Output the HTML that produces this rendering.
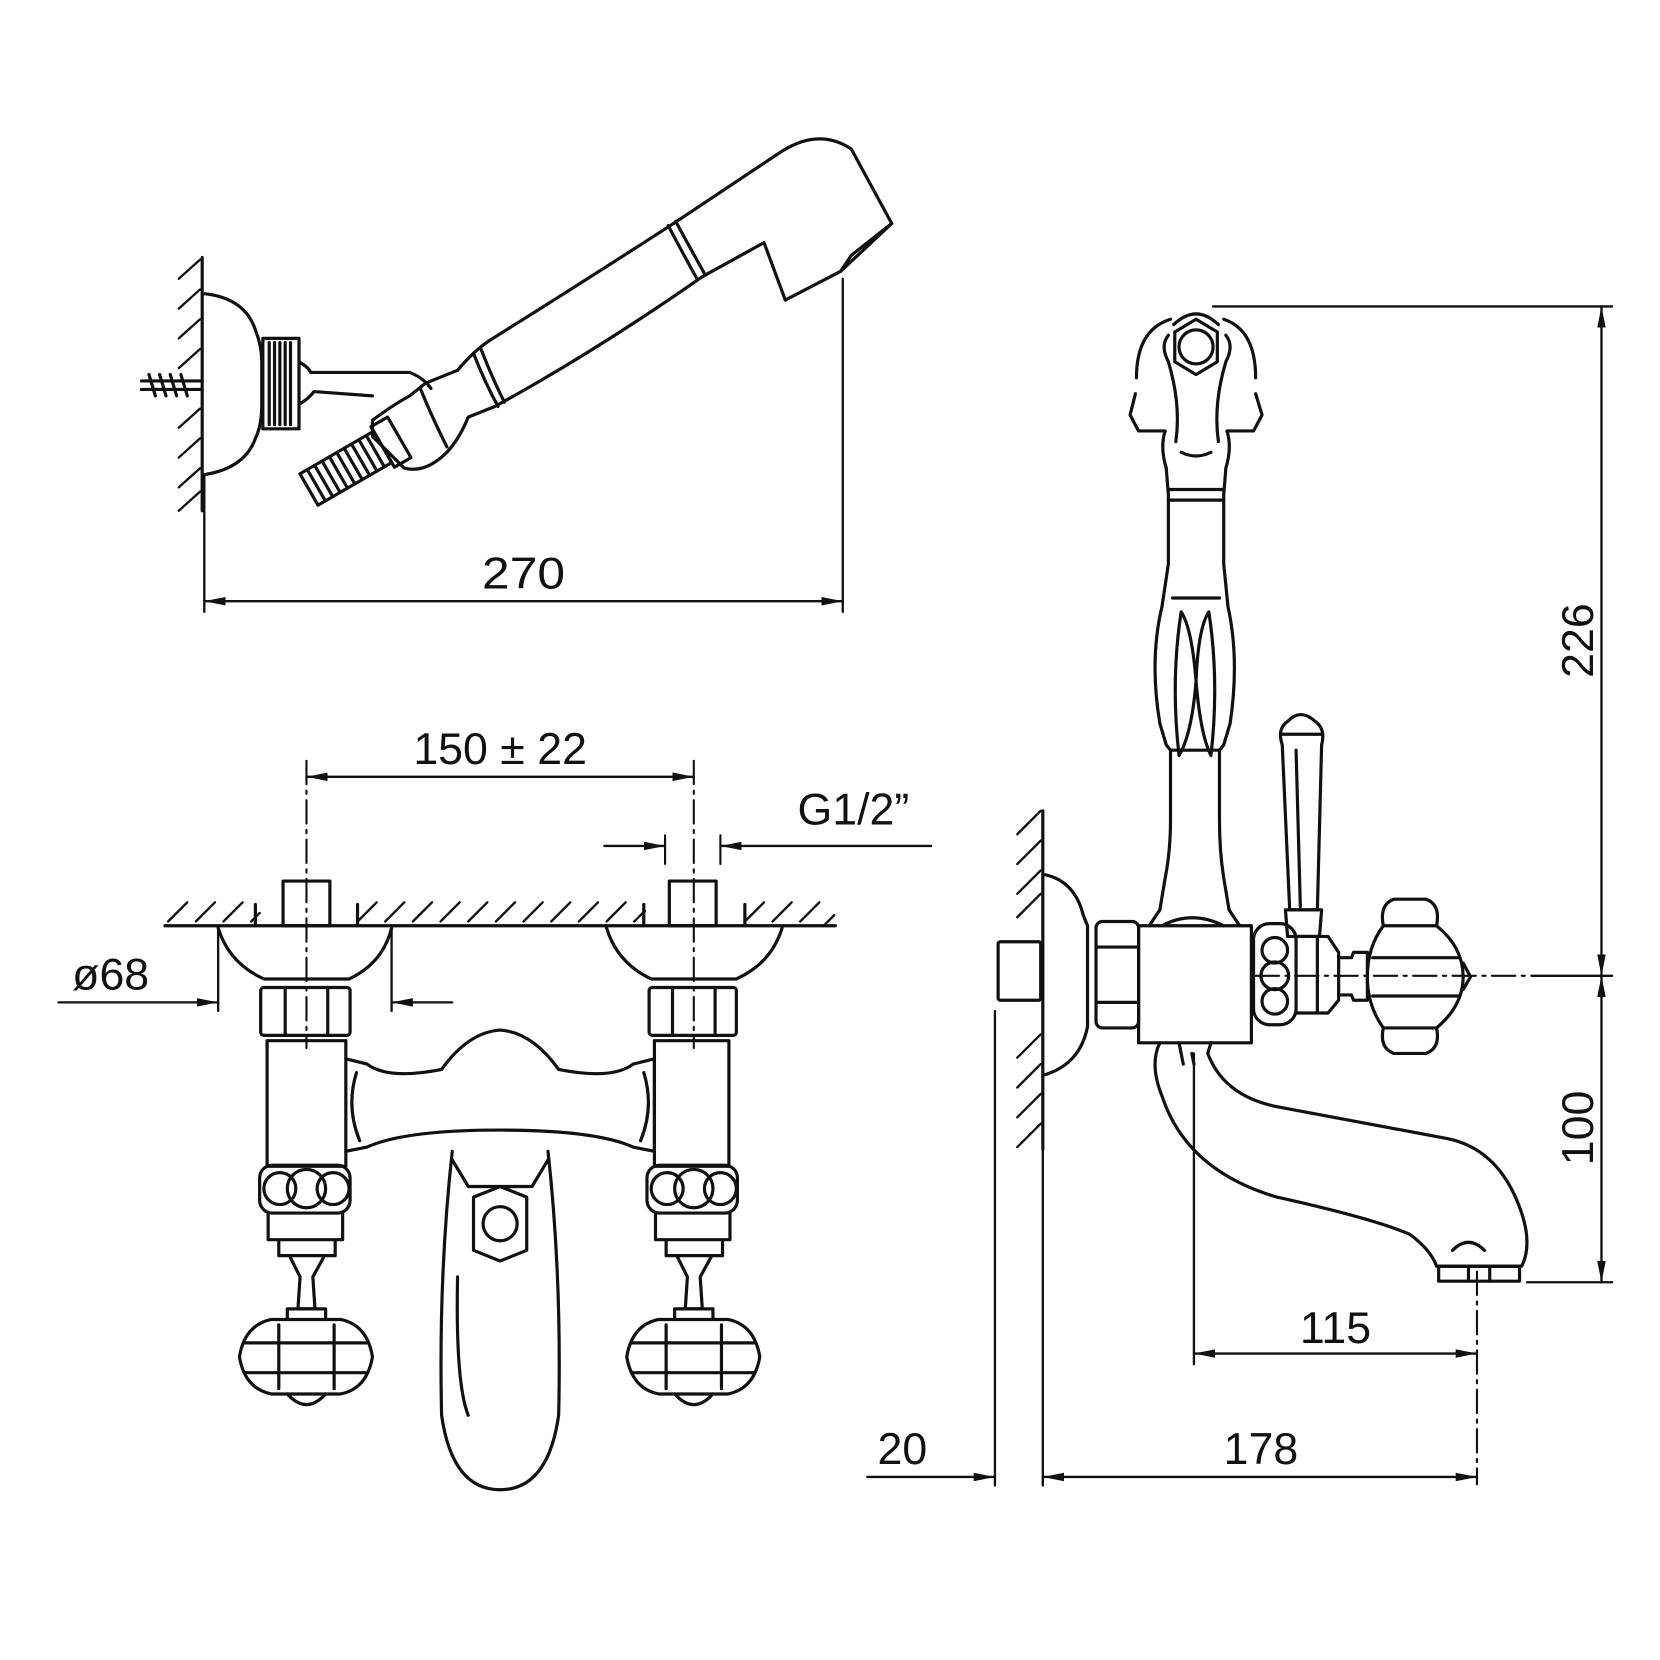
<!DOCTYPE html>
<html><head><meta charset="utf-8"><style>html,body{margin:0;padding:0;background:#fff}svg{display:block}</style></head>
<body>
<svg width="1660" height="1660" viewBox="0 0 1560 1560" xmlns="http://www.w3.org/2000/svg">
<defs>
<marker id="a" viewBox="0 0 20 8" refX="20" refY="4" markerWidth="20" markerHeight="8" orient="auto-start-reverse" markerUnits="userSpaceOnUse"><path d="M0,0 L20,4 L0,8 Z" fill="#111"/></marker>
</defs>
<g fill="none" stroke="#111" stroke-width="3" stroke-linejoin="round" stroke-linecap="round">
<!-- ===== HAND SHOWER ===== -->
<line x1="190" y1="242" x2="190" y2="480"/>
<g stroke-width="2.2">
<line x1="168" y1="262" x2="188" y2="244"/><line x1="168" y1="290" x2="188" y2="272"/><line x1="168" y1="318" x2="188" y2="300"/><line x1="168" y1="346" x2="188" y2="328"/><line x1="168" y1="402" x2="188" y2="384"/><line x1="168" y1="430" x2="188" y2="412"/><line x1="168" y1="458" x2="188" y2="440"/><line x1="168" y1="480" x2="188" y2="462"/>
</g>
<path d="M192,276 Q230,280 240,310 Q246,325 246,340 L246,380 Q246,400 240,412 Q230,440 192,446"/>
<rect x="247" y="318" width="34" height="85"/>
<path d="M253,322 L253,399 M258,322 L258,399 M263,322 L263,399 M268,322 L268,399 M273,322 L273,399"/>
<path d="M281,340 Q290,345 292,350 L385,350 Q398,355 405,365 M281,380 Q290,375 295,368 L350,372"/>
<path d="M133,358 L190,358 M133,366 L190,366"/>
<path d="M140,352 L146,372 M150,352 L156,372 M160,352 L166,372 M170,352 L176,372"/>
<path d="M400,360 L430,348 Q445,330 460,320 Q540,270 630,212 L735,142 Q770,120 800,140 L838,210 L790,255 L738,282 L718,228 L660,260 Q560,330 465,382 L440,392 Q432,412 420,425 Q400,445 380,440 L350,410 L350,395 Q370,380 385,372 Z"/>
<path d="M628,212 Q640,235 655,262 M635,208 Q648,232 662,257"/>
<path d="M445,332 Q455,358 468,382 M452,328 Q462,354 474,378"/>
<path d="M790,255 L800,240 L838,210"/>
<path d="M395,365 Q405,390 420,420"/>
<g transform="rotate(-30 325 440)">
<rect x="285" y="423" width="80" height="34"/>
<path d="M293,423 L293,457 M301,423 L301,457 M309,423 L309,457 M317,423 L317,457 M325,423 L325,457 M333,423 L333,457 M341,423 L341,457 M349,423 L349,457 M357,423 L357,457"/>
<rect x="365" y="418" width="18" height="44"/>
</g>
<line x1="192" y1="446" x2="192" y2="575" stroke-width="2.2"/>
<line x1="792" y1="262" x2="792" y2="575" stroke-width="2.2"/>
<line x1="192" y1="565" x2="792" y2="565" stroke-width="2.2" marker-start="url(#a)" marker-end="url(#a)"/>

<!-- ===== FRONT VIEW ===== -->
<line x1="155" y1="870" x2="785" y2="870"/>
<g stroke-width="2.2">
<line x1="158" y1="866" x2="176" y2="848"/><line x1="184" y1="866" x2="202" y2="848"/><line x1="210" y1="866" x2="228" y2="848"/><line x1="236" y1="866" x2="244" y2="858"/>
<line x1="336" y1="866" x2="354" y2="848"/><line x1="362" y1="866" x2="380" y2="848"/><line x1="388" y1="866" x2="406" y2="848"/><line x1="414" y1="866" x2="432" y2="848"/><line x1="440" y1="866" x2="458" y2="848"/><line x1="466" y1="866" x2="484" y2="848"/><line x1="492" y1="866" x2="510" y2="848"/><line x1="518" y1="866" x2="536" y2="848"/><line x1="544" y1="866" x2="562" y2="848"/><line x1="570" y1="866" x2="588" y2="848"/><line x1="596" y1="866" x2="606" y2="856"/>
<line x1="700" y1="866" x2="718" y2="848"/><line x1="726" y1="866" x2="744" y2="848"/><line x1="752" y1="866" x2="770" y2="848"/><line x1="774" y1="870" x2="784" y2="860"/>
</g>
<line x1="240" y1="850" x2="240" y2="870"/><line x1="336" y1="850" x2="336" y2="870"/>
<line x1="605" y1="850" x2="605" y2="870"/><line x1="700" y1="850" x2="700" y2="870"/>
<rect x="266" y="828" width="44" height="42"/><rect x="629" y="828" width="44" height="42"/>
<g stroke-width="2" stroke-dasharray="22,6,3,6">
<line x1="288" y1="715" x2="288" y2="985"/>
<line x1="652" y1="715" x2="652" y2="985"/>
</g>
<line x1="288" y1="730" x2="652" y2="730" stroke-width="2.2" marker-start="url(#a)" marker-end="url(#a)"/>
<line x1="568" y1="795" x2="625" y2="795" stroke-width="2.2" marker-end="url(#a)"/>
<line x1="875" y1="795" x2="677" y2="795" stroke-width="2.2" marker-end="url(#a)"/>
<line x1="625" y1="785" x2="625" y2="812" stroke-width="2"/><line x1="677" y1="785" x2="677" y2="812" stroke-width="2"/>
<path d="M205,872 Q215,905 248,920 L328,920 Q360,905 368,872"/>
<path d="M570,872 Q580,905 612,920 L692,920 Q725,905 735,872"/>
<line x1="205" y1="872" x2="205" y2="950" stroke-width="2.2"/><line x1="368" y1="872" x2="368" y2="950" stroke-width="2.2"/>
<line x1="55" y1="942" x2="205" y2="942" stroke-width="2.2" marker-end="url(#a)"/>
<line x1="425" y1="942" x2="368" y2="942" stroke-width="2.2" marker-end="url(#a)"/>
<rect x="245" y="928" width="84" height="45" rx="3"/>
<line x1="268" y1="928" x2="268" y2="973"/><line x1="308" y1="928" x2="308" y2="973"/>
<rect x="251" y="978" width="74" height="118"/>
<rect x="244" y="1095" width="85" height="45" rx="12"/>
<circle cx="263" cy="1117" r="15"/><circle cx="288" cy="1117" r="18"/><circle cx="313" cy="1117" r="15"/>
<path d="M252,1140 L252,1165 L322,1165 L322,1140 M262,1165 L262,1180 L315,1180 L315,1165 M272,1180 L282,1200 L280,1230 L296,1230 L294,1200 L305,1180"/>
<path d="M270,1230 L306,1230 L306,1240 L270,1240 Z M255,1240 L320,1240 Q345,1245 350,1275 Q345,1305 320,1310 L255,1310 Q230,1305 225,1275 Q230,1245 255,1240 Z"/>
<path d="M262,1245 L262,1305 M314,1245 L314,1305 M230,1262 L345,1262 M230,1290 L345,1290"/>
<path d="M270,1310 Q288,1330 306,1310"/>
<rect x="610" y="928" width="82" height="45" rx="3"/>
<line x1="632" y1="928" x2="632" y2="973"/><line x1="672" y1="928" x2="672" y2="973"/>
<rect x="615" y="978" width="70" height="118"/>
<rect x="608" y="1095" width="85" height="45" rx="12"/>
<circle cx="627" cy="1117" r="15"/><circle cx="652" cy="1117" r="18"/><circle cx="677" cy="1117" r="15"/>
<path d="M616,1140 L616,1165 L686,1165 L686,1140 M626,1165 L626,1180 L679,1180 L679,1165 M636,1180 L646,1200 L644,1230 L660,1230 L658,1200 L669,1180"/>
<path d="M634,1230 L670,1230 L670,1240 L634,1240 Z M619,1240 L684,1240 Q709,1245 714,1275 Q709,1305 684,1310 L619,1310 Q594,1305 589,1275 Q594,1245 619,1240 Z"/>
<path d="M626,1245 L626,1305 M678,1245 L678,1305 M594,1262 L709,1262 M594,1290 L709,1290"/>
<path d="M634,1310 Q652,1330 670,1310"/>
<path d="M325,995 L345,1000 Q365,1015 415,1005 Q440,970 470,968 Q500,970 525,1005 Q575,1015 595,1000 L615,995 L615,1082 L595,1078 Q560,1062 470,1062 Q380,1062 345,1078 L325,1082"/>
<path d="M335,1008 Q325,1040 338,1072 M605,1008 Q615,1040 602,1072"/>
<path d="M425,1082 Q412,1200 415,1330 Q425,1400 470,1400 Q515,1400 525,1330 Q528,1200 515,1082"/>
<path d="M425,1090 L440,1115 L500,1115 L515,1090"/>
<path d="M445,1125 L470,1115 L495,1125 L495,1175 L470,1185 L445,1175 Z"/>
<circle cx="470" cy="1150" r="16"/>
<path d="M430,1200 Q428,1300 440,1330"/>

<!-- ===== SIDE VIEW ===== -->
<line x1="980" y1="762" x2="980" y2="1080"/>
<g stroke-width="2.2">
<line x1="956" y1="784" x2="978" y2="762"/><line x1="956" y1="812" x2="978" y2="790"/><line x1="956" y1="840" x2="978" y2="818"/><line x1="956" y1="862" x2="978" y2="840"/>
<line x1="956" y1="994" x2="978" y2="972"/><line x1="956" y1="1022" x2="978" y2="1000"/><line x1="956" y1="1050" x2="978" y2="1028"/><line x1="956" y1="1078" x2="978" y2="1056"/>
</g>
<rect x="938" y="885" width="40" height="55" rx="2"/>
<path d="M982,822 Q1010,828 1018,860 L1022,870 L1022,965 Q1015,1000 982,1010"/>
<rect x="1030" y="866" width="40" height="100" rx="6"/>
<line x1="1030" y1="890" x2="1070" y2="890"/><line x1="1030" y1="942" x2="1070" y2="942"/>
<rect x="1070" y="870" width="106" height="110"/>
<path d="M1080,870 L1090,855 L1095,825 Q1100,800 1100,770 L1100,705 L1096,700 L1090,680 Q1080,620 1092,570 L1098,530 L1098,465 L1096,440 M1165,870 L1155,855 L1150,825 Q1146,800 1146,770 L1146,705 L1150,700 L1156,680 Q1165,620 1154,570 L1150,530 L1150,465 L1152,440"/>
<path d="M1100,705 L1146,705 M1102,562 L1146,562 M1098,470 L1150,470 M1098,460 L1150,460"/>
<path d="M1108,710 Q1100,640 1110,575 Q1120,590 1124,640 Q1120,690 1108,710 Z M1138,710 Q1146,640 1136,575 Q1126,590 1124,640 Q1128,690 1138,710 Z"/>
<path d="M1092,870 Q1120,855 1150,870"/>
<path d="M1096,440 Q1090,420 1095,405 L1070,405 L1062,390 L1067,370 M1152,440 Q1158,420 1153,405 L1178,405 L1186,390 L1180,370"/>
<path d="M1068,355 Q1068,310 1100,300 M1180,355 Q1180,310 1150,300"/>
<path d="M1105,415 Q1110,380 1098,340 Q1090,325 1098,315 M1145,415 Q1140,380 1152,340 Q1160,325 1152,315"/>
<path d="M1124,300 L1144,312 L1144,340 L1124,352 L1104,340 L1104,312 Z"/>
<circle cx="1124" cy="326" r="16"/>
<path d="M1103,305 Q1124,285 1145,305"/>
<path d="M1110,425 Q1124,432 1138,425"/>
<path d="M1212,855 L1205,700 Q1200,685 1210,678 Q1222,665 1236,678 Q1246,685 1242,700 L1238,855 Z"/>
<path d="M1205,690 L1242,690 M1218,705 L1222,852 M1208,855 L1242,855 L1240,880 L1210,880 Z"/>
<rect x="1178" y="868" width="40" height="95" rx="15"/>
<circle cx="1198" cy="893" r="12"/><circle cx="1198" cy="917" r="13"/><circle cx="1198" cy="941" r="12"/>
<path d="M1218,880 L1248,880 L1258,895 L1258,940 L1248,952 L1218,952 M1238,880 L1238,952"/>
<path d="M1258,900 L1270,900 L1272,895 L1285,895 L1285,940 L1272,940 L1270,935 L1258,935"/>
<path d="M1300,870 Q1296,850 1310,845 L1340,845 Q1354,850 1350,870 Q1375,890 1375,918 Q1375,945 1350,966 Q1354,985 1340,990 L1310,990 Q1296,985 1300,966 Q1285,945 1285,918 Q1285,890 1300,870 Z"/>
<path d="M1300,870 L1350,870 M1300,966 L1350,966 M1290,900 L1370,900 M1290,936 L1370,936"/>
<path d="M1375,905 L1382,918 L1375,930"/>
<g stroke-width="2" stroke-dasharray="22,6,3,6">
<line x1="1180" y1="917" x2="1440" y2="917"/>
<line x1="1388" y1="1195" x2="1388" y2="1395"/>
</g>
<path d="M1090,980 Q1080,1000 1092,1030 Q1115,1100 1200,1125 Q1290,1145 1325,1160 Q1345,1175 1350,1190 L1430,1190 Q1440,1170 1430,1140 Q1410,1080 1360,1070 L1200,1040 Q1150,1030 1135,990 L1138,980"/>
<path d="M1108,980 L1112,1000 M1120,990 L1122,1000"/>
<rect x="1352" y="1190" width="76" height="14"/>
<path d="M1380,1190 L1380,1204 M1400,1190 L1400,1204"/>
<path d="M1365,1175 Q1380,1160 1395,1175"/>
<line x1="1140" y1="288" x2="1515" y2="288" stroke-width="2.2"/>
<line x1="1435" y1="1205" x2="1515" y2="1205" stroke-width="2.2"/>
<line x1="1440" y1="917" x2="1515" y2="917" stroke-width="2.2"/>
<line x1="1505" y1="288" x2="1505" y2="917" stroke-width="2.2" marker-start="url(#a)" marker-end="url(#a)"/>
<line x1="1505" y1="917" x2="1505" y2="1205" stroke-width="2.2" marker-start="url(#a)" marker-end="url(#a)"/>
<line x1="1122" y1="990" x2="1122" y2="1282" stroke-width="2.2"/>
<line x1="1122" y1="1272" x2="1388" y2="1272" stroke-width="2.2" marker-start="url(#a)" marker-end="url(#a)"/>
<line x1="935" y1="950" x2="935" y2="1396" stroke-width="2.2"/>
<line x1="980" y1="1080" x2="980" y2="1396" stroke-width="2.2"/>
<line x1="815" y1="1388" x2="935" y2="1388" stroke-width="2.2" marker-end="url(#a)"/>
<line x1="980" y1="1388" x2="1388" y2="1388" stroke-width="2.2" marker-start="url(#a)" marker-end="url(#a)"/>
</g>
<g font-family="Liberation Sans, sans-serif" font-size="42" fill="#111" text-anchor="middle">
<text x="492" y="553" textLength="78" lengthAdjust="spacingAndGlyphs">270</text>
<text x="470" y="718">150 ± 22</text>
<text x="802" y="775">G1/2”</text>
<text x="104" y="930">ø68</text>
<text x="1255" y="1262">115</text>
<text x="1185" y="1376">178</text>
<text x="848" y="1376">20</text>
<text transform="translate(1497 602) rotate(-90)">226</text>
<text transform="translate(1497 1060) rotate(-90)">100</text>
</g>
</svg>
</body></html>
